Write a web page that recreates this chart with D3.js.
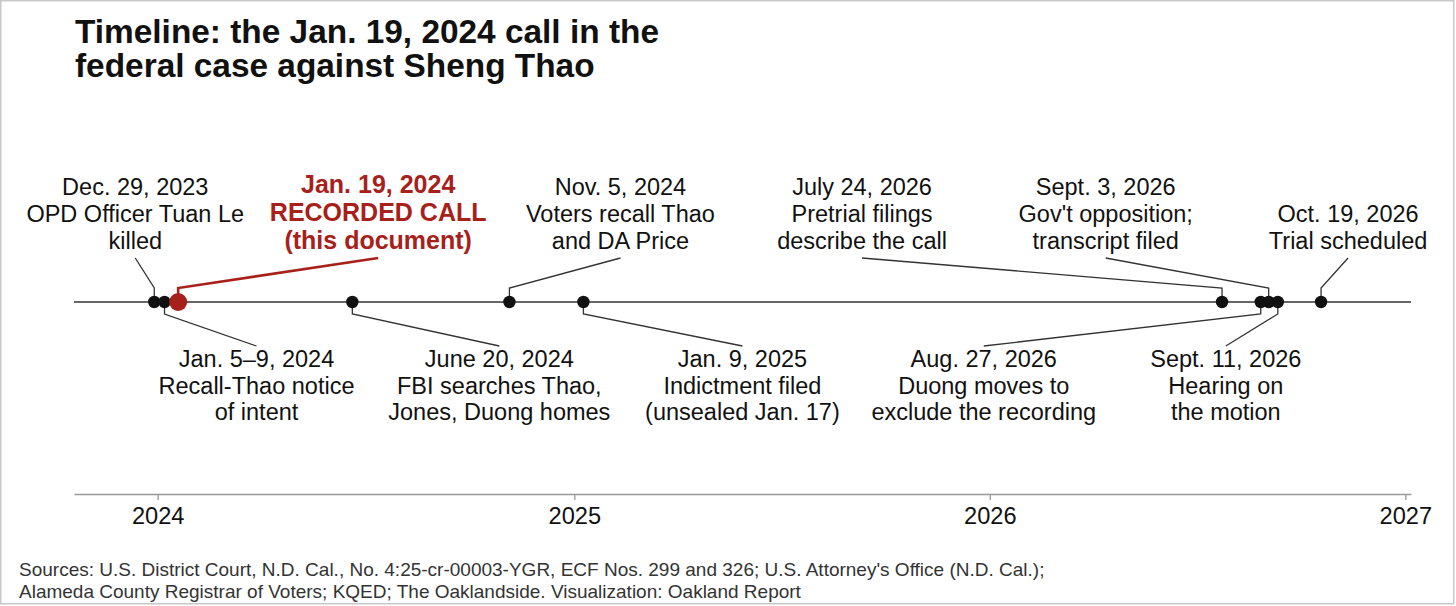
<!DOCTYPE html>
<html>
<head>
<meta charset="utf-8">
<script src="https://cdn.jsdelivr.net/npm/d3@7"></script>
<style>
  html, body { margin: 0; padding: 0; background: #fff; }
  svg { display: block; }
  text { font-family: "Liberation Sans", Arial, Helvetica, sans-serif; }
</style>
</head>
<body>
<svg id="chart" width="1456" height="606"></svg>
<script>
// ---------------- data ----------------
const titleLines = ["Timeline: the Jan. 19, 2024 call in the", "federal case against Sheng Thao"];
const eventDates = ["2023-12-29", "2024-01-07", "2024-01-19", "2024-06-20", "2024-11-05", "2025-01-09",
                    "2026-07-24", "2026-08-27", "2026-09-03", "2026-09-11", "2026-10-19"];
const eventLabels = [
  ["Dec. 29, 2023", "OPD Officer Tuan Le", "killed"],
  ["Jan. 5\u20139, 2024", "Recall-Thao notice", "of intent"],
  ["Jan. 19, 2024", "RECORDED CALL", "(this document)"],
  ["June 20, 2024", "FBI searches Thao,", "Jones, Duong homes"],
  ["Nov. 5, 2024", "Voters recall Thao", "and DA Price"],
  ["Jan. 9, 2025", "Indictment filed", "(unsealed Jan. 17)"],
  ["July 24, 2026", "Pretrial filings", "describe the call"],
  ["Aug. 27, 2026", "Duong moves to", "exclude the recording"],
  ["Sept. 3, 2026", "Gov't opposition;", "transcript filed"],
  ["Sept. 11, 2026", "Hearing on", "the motion"],
  ["Oct. 19, 2026", "Trial scheduled"]
];
const eventSide = ["top", "bottom", "top", "bottom", "top", "bottom", "top", "bottom", "top", "bottom", "top"];
const highlighted = [false, false, true, false, false, false, false, false, false, false, false];
const tickYears = ["2024", "2025", "2026", "2027"];
const sourceLines = [
  "Sources: U.S. District Court, N.D. Cal., No. 4:25-cr-00003-YGR, ECF Nos. 299 and 326; U.S. Attorney's Office (N.D. Cal.);",
  "Alameda County Registrar of Voters; KQED; The Oaklandside. Visualization: Oakland Report"
];

// ---------------- layout (label offsets from each dot, px) ----------------
const labelDx = [-19, 92, 200, 147, 111, 159, -360, -277, -163, -52, 27];

const RED = "#a8201a";
const INK = "#111";
const W = 1456, H = 606;
const lineY = 302, axisY = 494;

const parse = d3.utcParse("%Y-%m-%d");
const events = eventDates.map((d, i) => ({
  date: parse(d), lines: eventLabels[i], side: eventSide[i], hi: highlighted[i], dx: labelDx[i]
}));

const x = d3.scaleUtc()
  .domain([new Date(Date.UTC(2023, 9, 19, 12)), new Date(Date.UTC(2027, 0, 6))])
  .range([74, 1411]);

const svg = d3.select("#chart");

svg.append("rect").attr("x", 0.75).attr("y", 0.75).attr("width", W - 3).attr("height", H - 3)
  .attr("fill", "#fff").attr("stroke", "#c8c8c8").attr("stroke-width", 1.5);

// title
svg.append("text").attr("x", 75).attr("y", 43)
  .attr("font-size", 33.4).attr("font-weight", "bold").attr("fill", INK)
  .selectAll("tspan").data(titleLines).join("tspan")
  .attr("x", 75).attr("dy", (d, i) => i === 0 ? 0 : 34).text(d => d);

// timeline base line
const [x0, x1] = x.range();
svg.append("line").attr("x1", x0).attr("x2", x1).attr("y1", lineY).attr("y2", lineY)
  .attr("stroke", "#666").attr("stroke-width", 1.8);

// leaders
const topElbow = lineY - 14, topEnd = lineY - 44;
const botElbow = lineY + 12, botEnd = lineY + 44;
svg.append("g").selectAll("polyline").data(events).join("polyline")
  .attr("fill", "none")
  .attr("stroke", d => d.hi ? RED : "#333")
  .attr("stroke-width", d => d.hi ? 2.6 : 1.3)
  .attr("points", d => {
    const px = x(d.date);
    const e = d.side === "top" ? topElbow : botElbow;
    const t = d.side === "top" ? topEnd : botEnd;
    return [[px, lineY], [px, e], [px + d.dx, t]].map(p => p.join(",")).join(" ");
  });

// labels
const lab = svg.append("g").selectAll("text").data(events).join("text")
  .attr("text-anchor", "middle")
  .attr("font-size", d => d.hi ? 25 : 23.5)
  .attr("font-weight", d => d.hi ? "bold" : "normal")
  .attr("fill", d => d.hi ? RED : INK)
  .attr("transform", d => `translate(${x(d.date) + d.dx},0)`);
lab.each(function (d) {
  const lh = d.hi ? 28 : 26.6;
  const n = d.lines.length;
  const firstY = d.side === "top" ? 248.5 - (n - 1) * lh : 367;
  d3.select(this).selectAll("tspan").data(d.lines).join("tspan")
    .attr("x", 0).attr("y", (s, i) => firstY + i * lh).text(s => s);
});

// dots
svg.append("g").selectAll("circle").data(events).join("circle")
  .attr("cx", d => x(d.date)).attr("cy", lineY)
  .attr("r", d => d.hi ? 9 : 6.2)
  .attr("fill", d => d.hi ? RED : INK);

// axis
const tickDates = tickYears.map(y => parse(y + "-01-01"));
const axis = d3.axisBottom(x).tickValues(tickDates).tickFormat(d3.utcFormat("%Y")).tickSize(6).tickSizeOuter(0);
const ag = svg.append("g").attr("transform", `translate(0,${axisY})`).call(axis);
ag.select(".domain").attr("stroke", "#999").attr("stroke-width", 1.5);
ag.selectAll(".tick line").attr("stroke", "#999").attr("stroke-width", 1.3);
ag.selectAll(".tick text").attr("font-size", 23.6).attr("fill", INK)
  .attr("font-family", '"Liberation Sans", Arial, sans-serif').attr("dy", 0).attr("y", 30);

// sources
svg.append("text").attr("font-size", 19).attr("fill", "#333")
  .selectAll("tspan").data(sourceLines).join("tspan")
  .attr("x", 19).attr("y", (d, i) => 576 + i * 22).text(d => d);
</script>
</body>
</html>
